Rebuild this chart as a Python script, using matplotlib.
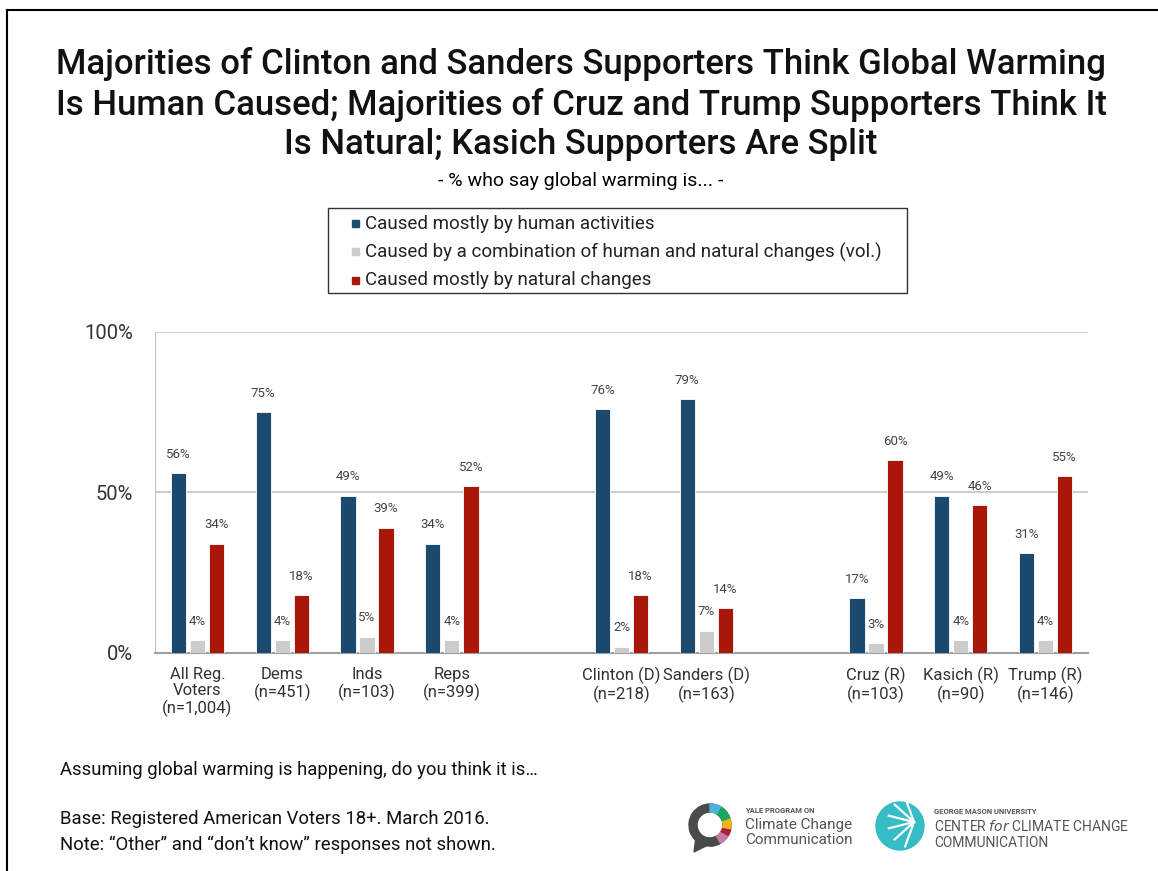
import numpy as np
import matplotlib
matplotlib.use('Agg')
import matplotlib.pyplot as plt
from matplotlib.patches import Wedge, Circle, Rectangle
from matplotlib.lines import Line2D

plt.rcParams['font.family'] = ['Roboto', 'DejaVu Sans']

# data
groups = ['All Reg.\nVoters\n(n=1,004)', 'Dems\n(n=451)', 'Inds\n(n=103)', 'Reps\n(n=399)',
          'Clinton (D)\n(n=218)', 'Sanders (D)\n(n=163)',
          'Cruz (R)\n(n=103)', 'Kasich (R)\n(n=90)', 'Trump (R)\n(n=146)']
slots = [0, 1, 2, 3, 5, 6, 8, 9, 10]   # empty slots separate the three blocks
human = [56, 75, 49, 34, 76, 79, 17, 49, 31]
combo = [4, 4, 5, 4, 2, 7, 3, 4, 4]
natural = [34, 18, 39, 52, 18, 14, 60, 46, 55]
series_names = ['Caused mostly by human activities',
                'Caused by a combination of human and natural changes (vol.)',
                'Caused mostly by natural changes']
colors = ['#1c4a6e', '#cccccc', '#a8170a']

W, H = 1158, 871
fig = plt.figure(figsize=(W / 100, H / 100), dpi=100)

def fx(px):
    return px / W

def fy(py):
    return 1 - py / H

# frame lines (top and left)
fig.add_artist(Line2D([fx(7), 1], [fy(10), fy(10)], color='black', lw=1.5))
fig.add_artist(Line2D([fx(7), fx(7)], [fy(10), 0], color='black', lw=1.5))

# titles
fig.text(fx(581), fy(104), 'Majorities of Clinton and Sanders Supporters Think Global Warming\n'
         'Is Human Caused; Majorities of Cruz and Trump Supporters Think It\n'
         'Is Natural; Kasich Supporters Are Split',
         ha='center', va='center', fontsize=25, linespacing=1.24, color='#111111',
         fontweight='medium')
fig.text(fx(581), fy(181), '- % who say global warming is... -', ha='center', va='center',
         fontsize=14, color='black')

ax = fig.add_axes([fx(155), fy(653), fx(1088 - 155), (653 - 332) / H])
x = np.array(slots, dtype=float)
bw = 0.18
off = 0.225
for vals, dx, c in zip([human, combo, natural], [-off, 0, off], colors):
    bars = ax.bar(x + dx, vals, width=bw, color=c, edgecolor='white', linewidth=0.6, zorder=3)
    for b, v in zip(bars, vals):
        ax.annotate(f'{v}%', (b.get_x() + b.get_width() / 2, v), xytext=(0, 9),
                    textcoords='offset points', ha='center', va='bottom',
                    fontsize=9.5, color='#444444', zorder=4)

ax.set_xlim(-0.5, 10.5)
ax.set_ylim(0, 100)
ax.set_yticks([0, 50, 100])
ax.set_yticklabels(['0%', '50%', '100%'], fontsize=14.5, color='#333333')
ax.set_xticks(x)
ax.set_xticklabels(groups, fontsize=12, color='#333333', linespacing=1.12)
ax.tick_params(axis='both', length=0)
ax.tick_params(axis='y', pad=16)
ax.tick_params(axis='x', pad=10)
ax.grid(axis='y', color='#c4c4c4', lw=1.2, zorder=0)
for s in ['top', 'right']:
    ax.spines[s].set_visible(False)
ax.spines['left'].set_color('#c4c4c4')
ax.spines['bottom'].set_color('#a0a0a0')
ax.spines['bottom'].set_linewidth(1.5)

# legend box, drawn by hand to match the padded layout
fig.add_artist(Rectangle((fx(328), fy(293)), fx(907 - 328), (293 - 208) / H,
                         fill=False, edgecolor='#333333', lw=1.0))
for i, (name, c) in enumerate(zip(series_names, colors)):
    yy = 224 + 28 * i
    fig.add_artist(Rectangle((fx(352), fy(yy + 3.5)), fx(7), 7 / H, color=c))
    fig.text(fx(365), fy(yy), name, ha='left', va='center', fontsize=13.5, color='#222222')

# footer
fig.text(fx(60), fy(770), 'Assuming global warming is happening, do you think it is…',
         ha='left', va='center', fontsize=13.3, color='#111111')
fig.text(fx(60), fy(819), 'Base: Registered American Voters 18+. March 2016.',
         ha='left', va='center', fontsize=13.3, color='#111111')
fig.text(fx(60), fy(845), 'Note: “Other” and “don’t know” responses not shown.',
         ha='left', va='center', fontsize=13.3, color='#111111')

# logos (approximation)
lax = fig.add_axes([0, 0, 1, 1], facecolor='none')
lax.set_xlim(0, W)
lax.set_ylim(H, 0)
lax.set_aspect('equal')
lax.axis('off')
cx, cy = 710, 825
ring = [(90, 200, '#4a4a4a'), (200, 300, '#4a4a4a'), (300, 330, '#c37ca8'),
        (330, 350, '#b0203a'), (350, 380, '#f0b323'), (380, 420, '#1aa860'),
        (420, 450, '#4fb3dc')]
for a1, a2, c in ring:
    lax.add_patch(Wedge((cx, cy), 21, -a2, -a1, width=8, color=c))
lax.add_patch(Wedge((cx, cy), 21, -90, 90, width=8, color='#4a4a4a', zorder=0))
lax.add_patch(plt.Polygon([[cx - 14, cy + 12], [cx - 2, cy + 20], [cx - 16, cy + 27]],
                          color='#4a4a4a'))
fig.text(fx(745), fy(810), 'YALE PROGRAM ON', fontsize=5.5, color='#555555', va='center',
         fontweight='bold')
fig.text(fx(745), fy(825), 'Climate Change', fontsize=11, color='#555555', va='center')
fig.text(fx(745), fy(840), 'Communication', fontsize=11, color='#555555', va='center')

gx, gy = 900, 826
lax.add_patch(Circle((gx, gy), 24, color='#35bcc4'))
for ang in np.linspace(110, 250, 6):
    r = np.radians(ang)
    lax.plot([gx + 14, gx + 14 + 26 * np.cos(r)], [gy - 4, gy - 4 - 26 * np.sin(r)],
             color='white', lw=1.6)
fig.text(fx(934), fy(811), 'GEORGE MASON UNIVERSITY', fontsize=5.5, color='#555555',
         va='center', fontweight='bold')
fig.text(fx(934), fy(826), 'CENTER $\\it{for}$ CLIMATE CHANGE', fontsize=10, color='#555555',
         va='center')
fig.text(fx(934), fy(843), 'COMMUNICATION', fontsize=10, color='#555555', va='center')

fig.savefig('out.png', dpi=100, facecolor='white')
